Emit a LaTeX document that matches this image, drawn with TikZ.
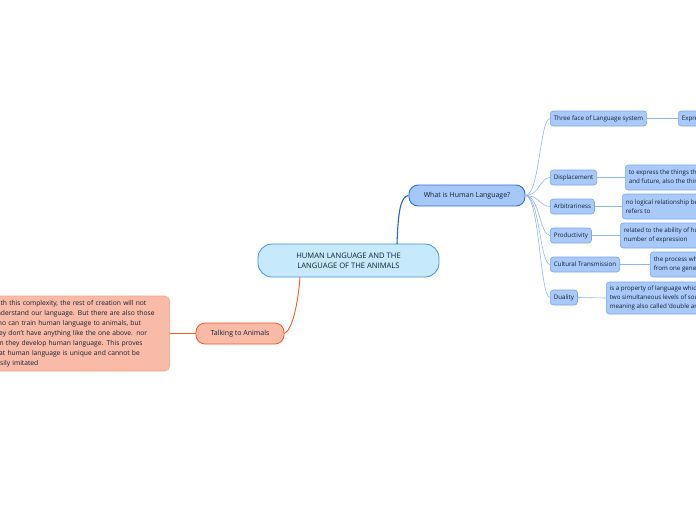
\documentclass[tikz,border=0pt]{standalone}
\usepackage{fontspec}
\setmainfont{Open Sans}
\definecolor{txt}{HTML}{102038}
\definecolor{cfill}{HTML}{C6E9FB}
\definecolor{cline}{HTML}{4A90D9}
\definecolor{wfill}{HTML}{A6C8F8}
\definecolor{wline}{HTML}{2E6FD0}
\definecolor{kfill}{HTML}{A9C9F8}
\definecolor{kline}{HTML}{7AA6EC}
\definecolor{kconn}{HTML}{8FB6F0}
\definecolor{bconn}{HTML}{1F63D0}
\definecolor{sfill}{HTML}{F9BBA7}
\definecolor{sline}{HTML}{F47D55}
\definecolor{oconn}{HTML}{F25A29}
\begin{document}
\begin{tikzpicture}[x=1pt,y=-1pt,
  every node/.style={text=txt},
  central/.style={draw=cline, fill=cfill, line width=0.8pt, rounded corners=14pt,
    minimum width=181pt, minimum height=33pt, align=center, font=\fontsize{7.6}{10}\selectfont, inner sep=3pt},
  what/.style={draw=wline, fill=wfill, line width=0.9pt, rounded corners=9pt,
    minimum width=116pt, minimum height=21pt, font=\fontsize{7}{9}\selectfont, inner sep=2pt},
  talk/.style={draw=oconn, fill=sfill, line width=0.8pt, rounded corners=9pt,
    minimum width=88pt, minimum height=21pt, font=\fontsize{7}{9}\selectfont, inner sep=2pt},
  note/.style={draw=sline!70, fill=sfill, line width=0.6pt, rounded corners=5pt,
    text width=172pt, align=left, inner xsep=5pt, minimum height=75pt,
    font=\fontsize{6.7}{10}\selectfont},
  kid/.style={draw=kline, fill=kfill, line width=0.6pt, rounded corners=3pt,
    minimum height=15pt, inner xsep=3.5pt, inner ysep=1pt, font=\fontsize{6.2}{9}\selectfont, anchor=west},
  det/.style={kid, align=left},
  kc/.style={draw=kconn, line width=0.6pt},
  bc/.style={draw=bconn, line width=1.1pt},
  oc/.style={draw=oconn, line width=0.9pt}
]
\useasboundingbox (0,0) rectangle (696,520);
\clip (0,0) rectangle (696,520);

\coordinate (ctop) at (397,244);
\coordinate (cbot) at (300,277);

\node[central] (c) at (348.5,260.5) {HUMAN LANGUAGE AND THE\\LANGUAGE OF THE ANIMALS};
\node[what] (w) at (467,195.5) {What is Human Language?};
\node[talk] (t) at (240,333.5) {Talking to Animals};
\node[note, anchor=east] (n) at (170,333.5) {With this complexity, the rest of creation will not\\understand our language. But there are also those\\who can train human language to animals, but\\they don't have anything like the one above. nor\\can they develop human language. This proves\\that human language is unique and cannot be\\easily imitated};

\node[kid] (k1) at (550,118.5) {Three face of Language system};
\node[kid] (k2) at (550,177.5) {Displacement};
\node[kid] (k3) at (550,206.5) {Arbitrariness};
\node[kid] (k4) at (550,235.5) {Productivity};
\node[kid] (k5) at (550,264.5) {Cultural Transmission};
\node[kid] (k6) at (550,297.5) {Duality};

\node[det, minimum height=15pt] (d1) at (678,118.5) {Expression and content};
\node[det, minimum height=25pt] (d2) at (625,177.5) {to express the things that happen in the past\\and future, also the things that do not exist};
\node[det, minimum height=25pt] (d3) at (622,206.5) {no logical relationship between a word and what it\\refers to};
\node[det, minimum height=25pt] (d4) at (620,235.5) {related to the ability of human language to create\\number of expression};
\node[det, minimum height=25pt] (d5) at (650,264.5) {the process where language is passed on\\from one generation to the next};
\node[det, minimum height=32pt] (d6) at (606,298) {is a property of language which has\\two simultaneous levels of sound and\\meaning also called 'double articulation'};

\draw[bc] (ctop) .. controls (398,215) and (400,196) .. (w.west);
\draw[oc] (cbot) .. controls (298,305) and (292,330) .. (t.east);
\draw[oc] (t.west) -- (n.east);

\foreach \k in {k1,k2,k3,k4,k5,k6}{
  \draw[kc] (w.east) .. controls +(14,0) and +(-10,0) .. (\k.west);
}
\draw[kc] (k1.east) -- (d1.west);
\draw[kc] (k2.east) -- (d2.west);
\draw[kc] (k3.east) -- (d3.west);
\draw[kc] (k4.east) -- (d4.west);
\draw[kc] (k5.east) -- (d5.west);
\draw[kc] (k6.east) -- (d6.west);
\end{tikzpicture}
\end{document}
